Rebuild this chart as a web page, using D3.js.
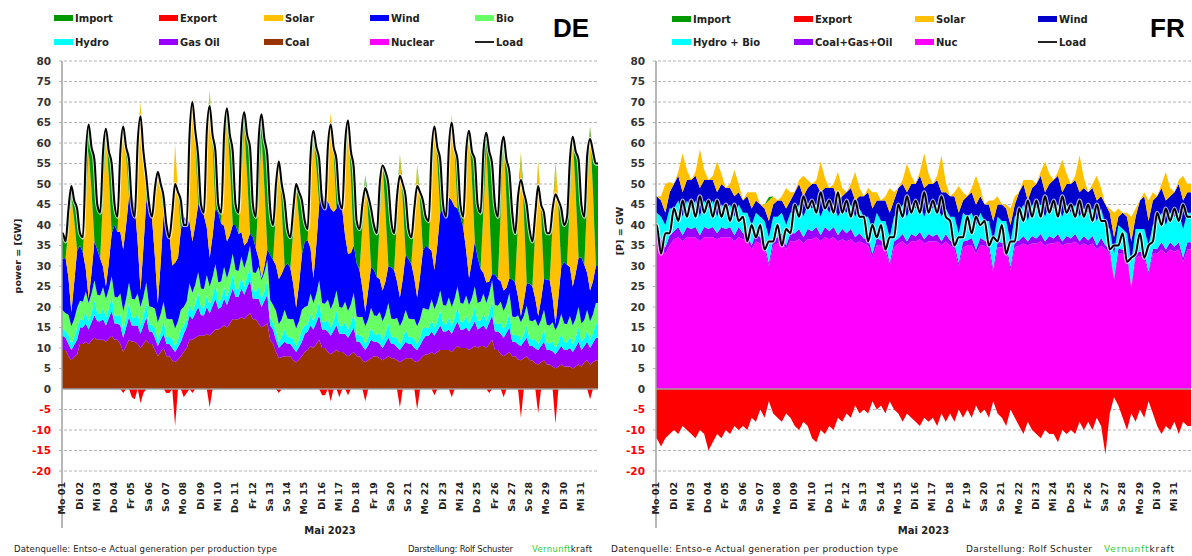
<!DOCTYPE html>
<html>
<head>
<meta charset="utf-8">
<script src="https://cdn.jsdelivr.net/npm/d3@7"></script>
<style>
  body { margin: 0; background: #fff; }
  svg { display: block; }
</style>
</head>
<body>
<svg id="chart" width="1192" height="556"></svg>
<script>
const deSampleHours = [1, 5, 9, 13, 17, 21];
const frSampleHours = [1, 7, 13, 19];
const yTicks = [-20, -15, -10, -5, 0, 5, 10, 15, 20, 25, 30, 35, 40, 45, 50, 55, 60, 65, 70, 75, 80];
const dayLabels = ['Mo 01', 'Di 02', 'Mi 03', 'Do 04', 'Fr 05', 'Sa 06', 'So 07', 'Mo 08', 'Di 09', 'Mi 10',
  'Do 11', 'Fr 12', 'Sa 13', 'So 14', 'Mo 15', 'Di 16', 'Mi 17', 'Do 18', 'Fr 19', 'Sa 20', 'So 21',
  'Mo 22', 'Di 23', 'Mi 24', 'Do 25', 'Fr 26', 'Sa 27', 'So 28', 'Mo 29', 'Di 30', 'Mi 31'];

// ---------- DE, GW, 6 readings per day ----------
const deCoal = [
  9.5,9.5,8,7,7.8,8.5, 11,11,11.5,11,11.8,12.5, 12,12,12,11.5,12.3,13, 12,12,11,9,10.5,12,
  11.5,11.5,11,10,11,12, 11,11,9.5,8,9,10, 8,8,7,6.5,7.2,8,
  9,10,12,12,12.5,13, 13,13,13.5,13,13.8,14.5, 14.5,15,15.5,15,16,17, 17,17,17.5,17,17.8,18.5,
  17,17,16,15,15.5,16, 12,11,9,7.5,7.8,8, 8,8,7,6.5,7.2,8,
  9,9.5,10.5,10,11,12, 10,10,9,8.5,9,9.5, 9,9,8.5,8,8.5,9, 8,8,7,6.5,7,7.5,
  8,8,7.5,7,7.5,8, 7.5,7.5,7,6.5,7,7.5, 7.5,7.5,6.8,6.5,7.2,8,
  8.5,8.5,9,8.5,9,9.5, 9.5,9.5,9.5,9,9.8,10.5, 10,10,10,9.5,10,10.5, 10,10.5,10.5,10,11,12,
  9.5,9.5,8.5,8,8.5,9, 8,8,7.2,7,7.5,8, 7,7,6.2,6,6.5,7,
  6,6,5.5,5,5.5,6, 5.5,5.5,5.5,5,5.5,6, 5.5,6.5,7,6,6.5,7
];
const deGasOil = [
  3.5,3,3,2.5,3,3.5, 4,4,4.5,3.5,4.5,5.5, 4.5,4.5,5,4,5,6, 4,4,4.5,3.5,4.5,5.5,
  4,4,4.5,3.5,4.5,5.5, 3,3,3,2.5,3,3.5, 3,3,3,2.5,3,3.5,
  4.5,5,6,5,6,7, 5,5,6.5,5.5,6.5,7.5, 5,5,6.5,5.5,6.5,7.5, 5.5,5.5,7,6,7,8,
  5,5,6,5,6,7, 3.5,3.5,3,2.5,3,3.5, 3,3,3,2.5,3,3.5,
  4.5,4.5,5,4.5,5.2,6, 4.5,4.5,5,4.5,5.2,6, 4.5,4.5,5,4.5,5.2,6, 3.5,3.5,3.5,3,3.7,4.5,
  3.5,3.5,3.5,3,3.7,4.5, 3.5,3.5,3.2,3,3.5,4, 3.5,3.5,3.2,3,3.5,4,
  4.5,4.5,5,4.5,5.2,6, 4.5,4.5,5,4.5,5.2,6, 4.5,4.5,5,4.5,5.2,6, 4.5,4.5,5,4.5,5.2,6,
  4.5,4.5,5,4.5,5.2,6, 3.5,3.5,3.7,3.5,4,4.5, 3.5,3.5,3.7,3.5,4,4.5,
  3.5,3.5,3.7,3.5,4,4.5, 4,4,4.5,4,4.7,5.5, 4,4,4.5,4,4.7,5.5
];
const deHydro = [
  1.8,1.6,2.3,1.5,1.8,3, 2,1.8,2.8,2,2.3,3.5, 2,1.8,2.8,2,2.3,3.5, 2,1.8,2.8,2,2.3,3.5,
  2,1.8,2.8,2,2.3,3.5, 1.8,1.6,2.3,1.5,1.8,3, 1.8,1.6,2.3,1.5,1.8,3,
  2,1.8,2.8,2,2.3,3.5, 2,1.8,2.8,2,2.3,3.5, 2,1.8,2.8,2,2.3,3.5, 2,1.8,2.8,2,2.3,3.5,
  2,1.8,2.8,2,2.3,3.5, 1.8,1.6,2.3,1.5,1.8,3, 1.8,1.6,2.3,1.5,1.8,3,
  2,1.8,2.8,2,2.3,3.5, 2,1.8,2.8,2,2.3,3.5, 2,1.8,2.8,2,2.3,3.5, 1.8,1.6,2.3,1.5,1.8,3,
  2,1.8,2.8,2,2.3,3.5, 1.8,1.6,2.3,1.5,1.8,3, 1.8,1.6,2.3,1.5,1.8,3,
  2,1.8,2.8,2,2.3,3.5, 2,1.8,2.8,2,2.3,3.5, 2,1.8,2.8,2,2.3,3.5, 2,1.8,2.8,2,2.3,3.5,
  2,1.8,2.8,2,2.3,3.5, 1.8,1.6,2.3,1.5,1.8,3, 1.8,1.6,2.3,1.5,1.8,3,
  1.8,1.6,2.3,1.5,1.8,3, 2,1.8,2.8,2,2.3,3.5, 2,1.8,2.8,2,2.3,3.5
];
const deBio = [
  4.4,4.4,4.8,4.3,4.5,4.8, 4.5,4.5,5,4.5,4.7,5, 4.5,4.5,5,4.5,4.7,5, 4.5,4.5,5,4.5,4.7,5,
  4.5,4.5,5,4.5,4.7,5, 4.4,4.4,4.8,4.3,4.5,4.8, 4.4,4.4,4.8,4.3,4.5,4.8,
  4.5,4.5,5,4.5,4.7,5, 4.5,4.5,5,4.5,4.7,5, 4.5,4.5,5,4.5,4.7,5, 4.5,4.5,5,4.5,4.7,5,
  4.5,4.5,5,4.5,4.7,5, 4.4,4.4,4.8,4.3,4.5,4.8, 4.4,4.4,4.8,4.3,4.5,4.8,
  4.5,4.5,5,4.5,4.7,5, 4.5,4.5,5,4.5,4.7,5, 4.5,4.5,5,4.5,4.7,5, 4.4,4.4,4.8,4.3,4.5,4.8,
  4.5,4.5,5,4.5,4.7,5, 4.4,4.4,4.8,4.3,4.5,4.8, 4.4,4.4,4.8,4.3,4.5,4.8,
  4.5,4.5,5,4.5,4.7,5, 4.5,4.5,5,4.5,4.7,5, 4.5,4.5,5,4.5,4.7,5, 4.5,4.5,5,4.5,4.7,5,
  4.5,4.5,5,4.5,4.7,5, 4.4,4.4,4.8,4.3,4.5,4.8, 4.4,4.4,4.8,4.3,4.5,4.8,
  4.4,4.4,4.8,4.3,4.5,4.8, 4.5,4.5,5,4.5,4.7,5, 4.5,4.5,5,4.5,4.7,5
];
const deWind = [
  12.5,13.5,9,3.5,9,14, 13.5,12,5.5,1,5,9.5, 11,9,5,3,6.5,10.5, 17.5,16,15,15,18,21,
  25,23,12.5,4,12,20, 24.5,21.5,12.5,4.5,12.5,21.5, 24,21,13,16,15.5,19.5,
  22,20,15,12.5,14.5,16.5, 19.5,18,11.5,7,10,13.5, 17,14,10,9,8,7, 11,9,6,5.5,4,3,
  8.5,6,2,0.5,1.5,2.5, 11,11,11,11,11,10.5, 13.5,12.5,8.5,5,9,13.5,
  16,16,11,6,12,18.5, 27,25,24,24.5,22,20, 28,24,16,14,12.5,11.5, 13,11.5,7,3.5,7,10,
  11,9.5,8,7.5,8,9, 12.5,12,9,7,10,13.5, 14.5,13.5,10,7,10.5,14,
  15.5,15,12,9.5,14,19, 23.5,22,24.5,26,22.5,19, 21,18.5,11,6.5,9,11, 11,8,5,5,3,1.5,
  7.5,6.5,5,5,4,3.5, 9,8.5,4.5,1.5,3.5,5.5, 9,8.5,5,2.5,5,7.5,
  11,11,6,1.5,6.5,11.5, 15,14.5,12,9.5,11,12, 16,13.5,9,7.5,8,9
];
const deSolar = [
  0,0,12,28,15,0, 0,0,16,36,20,0, 0,0,17,38,21,0, 0,0,14,31.5,17,0,
  0,0,20,46,25,0, 0,0,14,32,18,0, 0,0,13,29,16,0,
  0,0,15,35,19,0, 0,0,18,41,22,0, 0,0,14,30,17,0, 0,0,13,29,16,0,
  0,0,15,34.5,19,0, 0,0,13,29.5,16,0, 0,0,13,29,16,0,
  0,0,15,35,19,0, 0,0,12,23.5,14,0, 0,0,15,33,18,0, 0,0,15,33.5,18,0,
  0,0,14,31,17,0, 0,0,15,35,19,0, 0,0,14,32.5,18,0,
  0,0,16,36,20,0, 0,0,11,21,13,0, 0,0,16,36,20,0, 0,0,15,33,18,0,
  0,0,17,38,21,0, 0,0,18,40,22,0, 0,0,17,38,21,0,
  0,0,18,40,22,0, 0,0,16,36.5,20,0, 0,0,18,40,22,0
];
const deImport = [
  6,3.5,4.5,2,4.5,9.5, 2.5,3,11,6,10,19.5, 10.5,10.5,10.5,0,5.5,16.5, 4.5,3,5,0,1.5,8.5,
  0,0,3.5,0,0,5.5, 0,0,2.5,0,0.5,3.5, 0,0,0,0,0,6.5,
  0,0,5.5,0,3.5,11.5, 0.5,0,5,0,2,13.5, 1.5,2,7.5,2,7,17.5, 4.5,4.5,10,3,9.5,20.5,
  7.5,7,13.5,5,11.5,22.5, 11,8,6.5,0,5.5,15.5, 8,7,5,0.5,6,12.5,
  4.5,2,7,0.5,4.5,10.5, 0,0,0.5,0,1.5,11.5, 0,0,7,0,6.5,18.5, 10,9.5,5,0,4.5,13.5,
  10.5,10,8.5,0,9.5,19.5, 11,8.5,5,0,3.5,13.5, 7,6,2.5,0,2,11.5,
  6.5,6,7.5,0,3.5,12.5, 0.5,0,0.5,0,1,11.5, 2.5,2,7.5,0,6.5,19.5, 12.5,13,14,3,13.5,26.5,
  16.5,14.5,13,0,10,25.5, 16,11.5,6,0,4,18.5, 13,10.5,3.5,0,1.5,15.5,
  11,11,3,0,1,13.5, 8.5,11,9.5,0,9.5,23.5, 12.5,11,10,0,9.5,24.5
];
const deExport = [
  0,0,0,0,0,0, 0,0,0,0,0,0, 0,0,0,0,0,0, 0,0,0,-1,0,0,
  -2,-2.5,0,-3.5,-1,0, 0,0,0,0,0,0, -1,-1,0,-9,0,0,
  -2,-1,0,-1,0,0, 0,0,0,-4.5,0,0, 0,0,0,0,0,0, 0,0,0,0,0,0,
  0,0,0,0,0,0, 0,0,0,-1,0,0, 0,0,0,0,0,0,
  0,0,0,0,0,0, -1.5,-1.5,0,-3,0,0, -2,0,0,-1.5,0,0, 0,0,0,-3,0,0,
  0,0,0,0,0,0, 0,0,0,-4.5,0,0, 0,0,0,-5,0,0,
  0,0,0,-1.5,0,0, 0,0,0,-2,0,0, 0,0,0,0,0,0, 0,0,0,0,-1,0,
  0,0,0,-2,0,0, 0,0,0,-7,0,0, 0,0,0,-6,0,0,
  0,0,0,-8.5,0,0, 0,0,0,0,0,0, 0,0,0,-2.5,0,0
];
const deLoad = [
  38,36,44,49.5,46,44, 38,37,57,64.5,59,56, 45,43,58,63.5,58,55, 45,42,58,64,59,56,
  45,42,60,66.5,58,52, 45,42,49,53,50,47, 40,37,43,50,48,46,
  40,40,62,70,63,57, 45,43,63,69,62,58, 45,43,62,68.5,62,58, 45,43,62,67.5,62,59,
  45,42,61,67,61,57, 44,40,50,55.5,50,46, 39,37,44,50,48,46,
  41,39,57,63,59,56, 46,44,59,64.5,59,56, 46,44,60,65.5,58,54, 41,39,45,49,47,44,
  40,38,50,54.5,53,50, 41,38,47,52,50,47, 39,37,44,49.5,48,46,
  42,41,58,64,59,56, 45,42,59,65,59,56, 45,42,58,63,58,56, 45,43,58,62.5,58,55,
  45,42,57,61.5,56,53, 43,38,47,51,48,45, 39,36,43,49.5,45,43,
  38,38,44,47.5,46,44, 40,42,56,61.5,58,56, 45,42,57,61,58,55
];

// ---------- FR, GW, 4 readings per day ----------
const frNuc = [
  36,34,33,35, 36.5,37,36,37, 37,37,36,37, 37,37,36.5,37, 37,37,36,37, 36.5,36,34,36, 35.5,34,30,35,
  35.5,36,34,36, 36,36.5,35.5,36.5, 36.5,37,36,37, 36.5,37,36,36.5, 36,36.5,35.5,36, 35.5,35,32,35, 35,34,30,34.5,
  35.5,36,35,36, 36,36.5,35.5,36, 36,36,35,36, 35,34,30,34.5, 35,35,33,35, 35,34,28.5,34.5, 34.5,34,29,34.5,
  35,35.5,35,35.5, 35.5,36,35,35.5, 35.5,36,35,35.5, 35.5,36,35,35.5, 35,35.5,34,35, 34,33,26.5,33, 33,32,24.5,32,
  32.5,32,28,33, 33,34,33,34, 33.5,34,31,34
];
const frCoalGasOil = [
  2,2.5,1.5,2.5, 2,2.5,1.5,2.5, 2,2.5,1.5,2.5, 2,2.5,1.5,2.5, 2,2.5,1.5,2.5, 1.5,2,1,2, 1.5,1.5,0.8,1.5,
  1.5,2,1,2, 2,2.5,1.5,2.5, 2,2.5,1.5,2.5, 2,2.5,1.5,2.5, 2,2.5,1.5,2, 1.2,1.8,1,1.8, 1.2,1.5,0.8,1.5,
  1.2,1.8,1,1.8, 1.2,1.8,1,1.8, 1.2,1.8,1,1.8, 1.2,1.5,0.8,1.5, 1.2,1.8,1,1.8, 1.2,1.5,0.8,1.5, 1.2,1.5,0.8,1.5,
  1.2,1.8,1,1.8, 1.2,1.8,1,1.8, 1.2,1.8,1,1.8, 1.2,1.8,1,1.8, 1.2,1.8,1,1.8, 1,1.2,0.6,1.2, 1,1.2,0.6,1.2,
  1,1.2,0.6,1.2, 1.2,1.8,1,1.8, 1.2,1.8,1,1.8
];
const frHydroBio = [
  5,5.5,5.5,6.5, 5.5,6.5,4.5,6.5, 5,6.5,4.5,6.5, 5,6.5,4,5.5, 5,5.5,4.5,5.5, 5,5,5,5, 5,5.5,6.2,5.5,
  5,5,5,5, 5,6,5,6, 5.5,5.5,4.5,5.5, 4.5,5.5,4.5,5, 5,6,5,6, 5.3,5.2,6,6.2, 4.8,5.5,6.2,6,
  6.3,7.2,6,7.2, 6.8,6.7,5.5,7.2, 6.8,7.2,6,6.2, 5.8,6.5,7.2,7, 5.8,6.2,6,6.2, 4.8,5.5,6.7,6, 5.3,5.5,6.2,6,
  6.8,7.7,5,7.7, 7.3,7.2,6,7.7, 7.3,7.2,6,7.7, 6.3,7.2,6,6.7, 6.8,6.7,6,7.2, 5,4.8,5.9,5.8, 5,4.8,5.9,5.8,
  5.5,5.8,6.4,5.8, 6.8,7.2,6,7.2, 7.3,7.2,7,7.2
];
const frWind = [
  4,4,3,4, 6,6,6,5, 7,6,7,5, 7,5,6,5, 5,4,5,3, 3,4,4,3, 3,3,4,3,
  4,3,4,3, 5,5,5,4, 6,5,6,4, 6,4,4,3, 5,4,4,3, 5,6,5,3, 5,5,6,4,
  6,5,6,5, 6,7,7,5, 6,6,6,4, 5,5,5,3, 5,5,5,4, 4,4,5,3, 4,3,4,3,
  5,5,5,4, 6,7,6,5, 7,7,6,5, 7,6,6,5, 5,5,5,3, 5,4,4,2, 4,4,5,3,
  7,8,6,6, 6,6,6,4, 6,7,7,5
];
const frSolar = [
  0,1,7,2.5, 0,1,9.5,2.5, 0,1,9.5,2.5, 0,1,7.5,2.5, 0,1,6.5,2, 0,1,4,2, 0,1,5,2,
  0,1,5,2, 0,1,5,2, 0,1,7.5,2.5, 0,1,7,2, 0,1,7,2, 0,1,4,2, 0,1,6,2,
  0,1,7,2, 0,1,8.5,2.5, 0,1,9,2.5, 0,1,6.5,2, 0,1,7,2, 0,1,5,2, 0,1,4,2,
  0,1,5,2, 0,1,7.5,2.5, 0,1,8,2.5, 0,1,9,2.5, 0,1,6,2, 0,1,6,2, 0,1,6,2,
  0,1,5,2, 0,1,7,2, 0,1,6,2
];
const frImport = [
  0,0,0,0, 0,0,0,0, 0,0,0,0, 0,0,0,0, 0,0,0,0, 0,0,0,0, 0,0,0.8,0,
  0,0,0,0, 0,0,0,0, 0,0,0,0, 0,0,0,0, 0,0,0,0, 0,0,0,0, 0,0,0,0,
  0,0,0,0, 0,0,0,0, 0,0,0,0, 0,0,0,0, 0,0,0,0, 0,0,0,0, 0,0,0,0,
  0,0,0,0, 0,0,0,0, 0,0,0,0, 0,0,0,0, 0,0,0,0, 0,0,0,0, 0,0,0,0,
  0,0,0,0, 0,0,0,0, 0,0,0,0
];
const frExport = [
  -12,-14,-12,-11, -10,-11,-9,-10, -11,-12,-10,-11, -15,-13,-11,-12, -10,-11,-9,-10, -9,-10,-7,-8, -5,-7,-3,-6,
  -7,-8,-6,-7, -9,-10,-8,-9, -12,-13,-10,-11, -9,-10,-7,-8, -6,-7,-4,-6, -5,-6,-3,-5, -4,-6,-3,-5,
  -6,-8,-6,-7, -8,-9,-7,-8, -7,-9,-6,-8, -6,-8,-5,-7, -5,-7,-4,-6, -5,-7,-3,-6, -7,-9,-5,-7,
  -9,-11,-8,-10, -11,-12,-10,-11, -11,-13,-10,-11, -10,-11,-8,-10, -8,-10,-7,-9, -16,-6,-2,-4, -7,-10,-6,-8,
  -5,-7,-3,-6, -9,-11,-9,-10, -8,-11,-8,-9
];
const frLoad = [
  40,33,38,38, 44,41,46,42, 46,42,47,43, 46,42,46,42, 45,41,45,41, 42,36,40,37, 40,34,36,36,
  40,35,39,38, 45,42,47,44, 46,43,48,44, 46,43,48,43, 46,42,46,42, 42,36,40,37, 40,34,37,37,
  45,42,47,43, 46,43,48,43, 46,43,47,42, 41,35,37,37, 42,38,42,40, 41,35,37,36, 40,33,36,36,
  44,41,46,42, 46,42,47,43, 46,42,47,43, 45,42,46,42, 45,41,45,41, 41,34,35,35, 38,31,32,33,
  38,32,35,36, 43,40,44,41, 44,41,45,42
];

const FONT = 'DejaVu Sans, Verdana, sans-serif';
const svg = d3.select('#chart');

function drawPanel(p) {
  const x = d3.scaleLinear().domain([0, 744]).range([p.left, p.right]);
  const y = d3.scaleLinear().domain([-20, 80]).range([471, 61]);
  const g = svg.append('g');

  // dashed grid
  g.append('g').selectAll('line').data(yTicks.filter(v => v !== 0)).join('line')
    .attr('x1', p.left - 3).attr('x2', p.right)
    .attr('y1', d => y(d)).attr('y2', d => y(d))
    .attr('stroke', '#b4b4b4').attr('stroke-dasharray', '3,2');

  const n = p.load.length, k = p.hours.length;
  const rows = d3.range(n).map(i => {
    const r = { hour: Math.floor(i / k) * 24 + p.hours[i % k], load: p.load[i], exp: p.exportValues[i] };
    p.series.forEach(s => { r[s.key] = s.values[i]; });
    return r;
  });
  // hold the first / last reading out to the plot edges
  const rowsExt = [Object.assign({}, rows[0], { hour: 0 }), ...rows, Object.assign({}, rows[n - 1], { hour: 744 })];

  const layers = d3.stack().keys(p.series.map(s => s.key))(rowsExt);
  const area = d3.area().x(d => x(d.data.hour)).y0(d => y(d[0])).y1(d => y(d[1]));
  g.append('g').selectAll('path').data(layers).join('path')
    .attr('fill', (d, i) => p.series[i].color)
    .attr('d', area);

  g.append('path').datum(rowsExt)
    .attr('fill', '#ff0000')
    .attr('d', d3.area().x(d => x(d.hour)).y0(y(0)).y1(d => y(d.exp)));

  g.append('line')
    .attr('x1', p.left).attr('x2', p.right).attr('y1', y(0)).attr('y2', y(0))
    .attr('stroke', '#a0a0a0').attr('stroke-width', 1.5);

  // load
  const line = d3.line().x(d => x(d.hour)).y(d => y(d.load)).curve(d3.curveMonotoneX);
  g.append('path').datum(rowsExt)
    .attr('fill', 'none').attr('stroke', '#fff').attr('stroke-width', 4).attr('stroke-opacity', 0.7)
    .attr('d', line);
  g.append('path').datum(rowsExt)
    .attr('fill', 'none').attr('stroke', '#000').attr('stroke-width', 2)
    .attr('d', line);

  // y axis
  const ax = g.append('g').attr('transform', `translate(${p.left},0)`)
    .call(d3.axisLeft(y).tickValues(yTicks).tickSize(0).tickPadding(11).tickFormat(d => String(d)));
  ax.select('.domain').remove();
  ax.selectAll('text')
    .attr('font-family', FONT).attr('font-weight', 'bold').attr('font-size', 10.5)
    .attr('fill', d => d < 0 ? '#ff0000' : '#333');
  g.append('line')
    .attr('x1', p.left).attr('x2', p.left).attr('y1', y(80)).attr('y2', 528)
    .attr('stroke', '#a0a0a0').attr('stroke-width', 1.5);

  // day labels
  g.append('g').selectAll('text').data(dayLabels).join('text')
    .attr('transform', (d, i) => `translate(${x(i * 24)},482) rotate(-90)`)
    .attr('text-anchor', 'end').attr('dy', '0.35em')
    .attr('font-family', FONT).attr('font-weight', 'bold').attr('font-size', 9.5).attr('fill', '#222')
    .text(d => d);

  g.append('text')
    .attr('x', (p.left + p.right) / 2).attr('y', 534).attr('text-anchor', 'middle')
    .attr('font-family', FONT).attr('font-weight', 'bold').attr('font-size', 10).attr('fill', '#222')
    .text('Mai 2023');

  g.append('text')
    .attr('transform', `translate(${p.yTitleX},${p.yTitleY}) rotate(-90)`)
    .attr('text-anchor', 'middle').attr('dy', '0.35em')
    .attr('font-family', FONT).attr('font-weight', 'bold').attr('font-size', 9.5).attr('fill', '#222')
    .text(p.yTitle);

  // legend
  p.legend.forEach(item => {
    if (item.kind === 'line') {
      g.append('line').attr('x1', item.x).attr('x2', item.x + 19).attr('y1', item.y).attr('y2', item.y)
        .attr('stroke', '#222').attr('stroke-width', 2);
    } else {
      g.append('rect').attr('x', item.x).attr('y', item.y - 3).attr('width', 19).attr('height', 6)
        .attr('fill', item.color);
    }
    g.append('text').attr('x', item.x + 21).attr('y', item.y).attr('dy', '0.35em')
      .attr('font-family', FONT).attr('font-weight', 'bold').attr('font-size', 10).attr('fill', '#222')
      .text(item.label);
  });

  g.append('text')
    .attr('x', p.titleX).attr('y', 37)
    .attr('font-family', 'Liberation Sans, Arial, sans-serif').attr('font-weight', 'bold')
    .attr('font-size', 26).attr('fill', '#000')
    .text(p.title);

  // footer
  const foot = g.append('g').attr('font-family', FONT).attr('font-size', p.footSize).attr('fill', '#222');
  foot.append('text').attr('x', p.foot[0]).attr('y', 552)
    .attr('textLength', p.footLen[0]).attr('lengthAdjust', 'spacing').text(p.sourceText);
  foot.append('text').attr('x', p.foot[1]).attr('y', 552)
    .attr('textLength', p.footLen[1]).attr('lengthAdjust', 'spacing').text(p.authorText);
  const vk = foot.append('text').attr('x', p.foot[2]).attr('y', 552)
    .attr('textLength', p.footLen[2]).attr('lengthAdjust', 'spacing');
  vk.append('tspan').attr('fill', '#33cc33').text('Vernunft');
  vk.append('tspan').text('kraft');
}

const deCols = [54, 159, 264, 370, 475];
drawPanel({
  left: 62, right: 598, title: 'DE', titleX: 553, hours: deSampleHours,
  yTitle: 'power = [GW]', yTitleX: 18, yTitleY: 256,
  series: [
    { key: 'coal', values: deCoal, color: '#993300' },
    { key: 'gas', values: deGasOil, color: '#9900ff' },
    { key: 'hydro', values: deHydro, color: '#00ffff' },
    { key: 'bio', values: deBio, color: '#66ff66' },
    { key: 'wind', values: deWind, color: '#0000ff' },
    { key: 'solar', values: deSolar, color: '#ffc000' },
    { key: 'import', values: deImport, color: '#009900' }
  ],
  exportValues: deExport, load: deLoad,
  legend: [
    { label: 'Import', color: '#009900', x: deCols[0], y: 18 },
    { label: 'Export', color: '#ff0000', x: deCols[1], y: 18 },
    { label: 'Solar', color: '#ffc000', x: deCols[2], y: 18 },
    { label: 'Wind', color: '#0000ff', x: deCols[3], y: 18 },
    { label: 'Bio', color: '#66ff66', x: deCols[4], y: 18 },
    { label: 'Hydro', color: '#00ffff', x: deCols[0], y: 42 },
    { label: 'Gas Oil', color: '#9900ff', x: deCols[1], y: 42 },
    { label: 'Coal', color: '#993300', x: deCols[2], y: 42 },
    { label: 'Nuclear', color: '#ff00ff', x: deCols[3], y: 42 },
    { label: 'Load', kind: 'line', x: deCols[4], y: 42 }
  ],
  footSize: 8.5, foot: [14, 408, 532], footLen: [263, 105, 60],
  sourceText: 'Datenquelle: Entso-e  Actual generation per production type',
  authorText: 'Darstellung:  Rolf Schuster'
});

const frCols = [672, 794, 915, 1038];
drawPanel({
  left: 656, right: 1191, title: 'FR', titleX: 1150, hours: frSampleHours,
  yTitle: '[P] = GW', yTitleX: 620, yTitleY: 231,
  series: [
    { key: 'nuc', values: frNuc, color: '#ff00ff' },
    { key: 'cgo', values: frCoalGasOil, color: '#9900ff' },
    { key: 'hydro', values: frHydroBio, color: '#00ffff' },
    { key: 'wind', values: frWind, color: '#0000cc' },
    { key: 'solar', values: frSolar, color: '#ffc000' },
    { key: 'import', values: frImport, color: '#009900' }
  ],
  exportValues: frExport, load: frLoad,
  legend: [
    { label: 'Import', color: '#009900', x: frCols[0], y: 19 },
    { label: 'Export', color: '#ff0000', x: frCols[1], y: 19 },
    { label: 'Solar', color: '#ffc000', x: frCols[2], y: 19 },
    { label: 'Wind', color: '#0000cc', x: frCols[3], y: 19 },
    { label: 'Hydro + Bio', color: '#00ffff', x: frCols[0], y: 42 },
    { label: 'Coal+Gas+Oil', color: '#9900ff', x: frCols[1], y: 42 },
    { label: 'Nuc', color: '#ff00ff', x: frCols[2], y: 42 },
    { label: 'Load', kind: 'line', x: frCols[3], y: 42 }
  ],
  footSize: 9, foot: [611, 966, 1104], footLen: [287, 126, 70],
  sourceText: 'Datenquelle: Entso-e Actual generation per production type',
  authorText: 'Darstellung: Rolf Schuster'
});
</script>
</body>
</html>
